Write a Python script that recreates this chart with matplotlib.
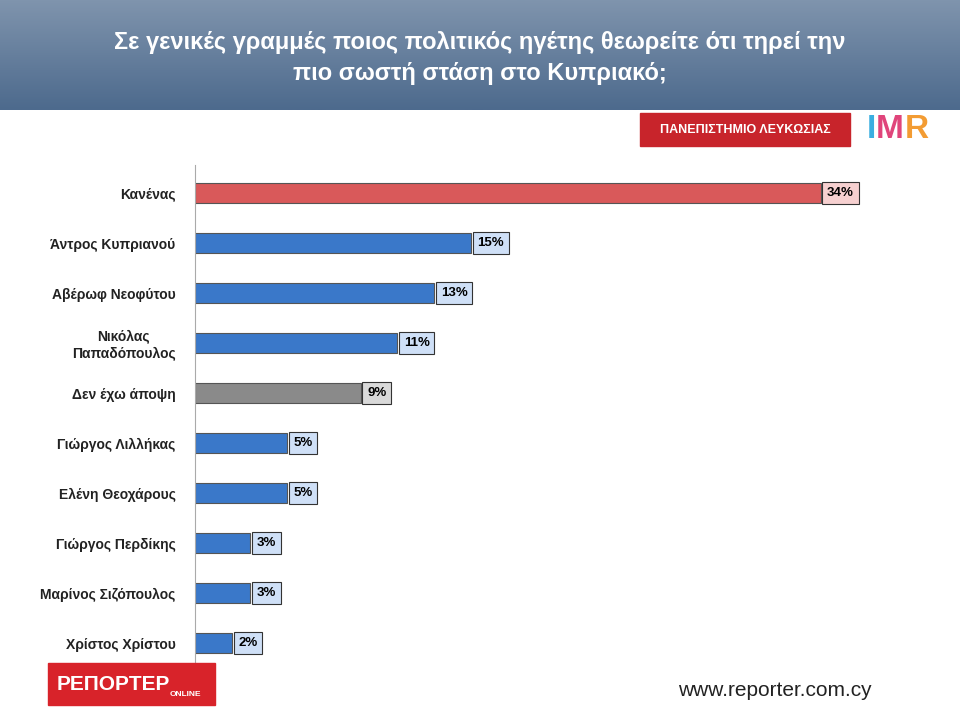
import matplotlib
matplotlib.use("Agg")
import matplotlib.pyplot as plt
import numpy as np
from matplotlib.patches import Rectangle
from matplotlib.colors import LinearSegmentedColormap

plt.rcParams["font.family"] = "Liberation Sans"

categories = ["Κανένας", "Άντρος Κυπριανού", "Αβέρωφ Νεοφύτου", "Νικόλας\nΠαπαδόπουλος",
              "Δεν έχω άποψη", "Γιώργος Λιλλήκας", "Ελένη Θεοχάρους", "Γιώργος Περδίκης",
              "Μαρίνος Σιζόπουλος", "Χρίστος Χρίστου"]
values = [34, 15, 13, 11, 9, 5, 5, 3, 3, 2]
labels = ["34%", "15%", "13%", "11%", "9%", "5%", "5%", "3%", "3%", "2%"]
bar_colors = ["#d9595a", "#3a78c9", "#3a78c9", "#3a78c9", "#8a8a8a", "#3a78c9",
              "#3a78c9", "#3a78c9", "#3a78c9", "#3a78c9"]
box_colors = ["#f6d0d0", "#cfe0f7", "#cfe0f7", "#cfe0f7", "#d9d9d9", "#cfe0f7",
              "#cfe0f7", "#cfe0f7", "#cfe0f7", "#cfe0f7"]

fig = plt.figure(figsize=(9.6, 7.2), dpi=100)
fig.patch.set_facecolor("white")

hax = fig.add_axes([0, 1 - 110/720, 1, 110/720])
grad = np.linspace(0, 1, 100).reshape(-1, 1)
cm = LinearSegmentedColormap.from_list("h", ["#7f94ad", "#4d6a8d"])
hax.imshow(grad, aspect="auto", cmap=cm, extent=[0, 1, 0, 1])
hax.axis("off")
fig.text(0.5, 1 - 58/720, "Σε γενικές γραμμές ποιος πολιτικός ηγέτης θεωρείτε ότι τηρεί την\nπιο σωστή στάση στο Κυπριακό;",
         ha="center", va="center", color="white", fontsize=17, fontweight="bold", linespacing=1.45)

ax = fig.add_axes([195/960, 1 - 665/720, 736/960, 500/720])
y = np.arange(len(values))
ax.barh(y, values, height=0.4, color=bar_colors, edgecolor="#555555", linewidth=0.8)
ax.set_xlim(0, 40)
ax.set_ylim(9.44, -0.56)
ax.set_yticks(y)
ax.set_yticklabels(categories, fontsize=10, fontweight="bold", color="#222222",
                   multialignment="center")
ax.tick_params(axis="y", length=0, pad=14)
ax.set_xticks([])
for s in ["top", "right", "bottom"]:
    ax.spines[s].set_visible(False)
ax.spines["left"].set_color("#aaaaaa")
for yi, v, lab, bc in zip(y, values, labels, box_colors):
    ax.text(v + 0.35, yi, lab, va="center", ha="left", fontsize=9.5, fontweight="bold",
            bbox=dict(boxstyle="square,pad=0.35", fc=bc, ec="#333333", lw=0.8))

fig.patches.append(Rectangle((640/960, 1 - 146/720), 210/960, 33/720, transform=fig.transFigure,
                             color="#c8242b"))
fig.text(745/960, 1 - 130/720, "ΠΑΝΕΠΙΣΤΗΜΙΟ ΛΕΥΚΩΣΙΑΣ", ha="center", va="center",
         color="white", fontsize=9, fontweight="bold")
fig.text(867/960, 1 - 130/720, "I", color="#3aaee0", fontsize=24, fontweight="bold", va="center")
fig.text(876/960, 1 - 130/720, "M", color="#e0457b", fontsize=24, fontweight="bold", va="center")
fig.text(905/960, 1 - 130/720, "R", color="#f39c33", fontsize=24, fontweight="bold", va="center")

fig.patches.append(Rectangle((48/960, 1 - 705/720), 167/960, 42/720, transform=fig.transFigure,
                             color="#d8232a"))
fig.text(57/960, 1 - 685/720, "ΡΕΠΟΡΤΕΡ", color="white", fontsize=15, fontweight="bold",
         va="center")
fig.text(170/960, 1 - 694/720, "ONLINE", color="white", fontsize=6, fontweight="bold", va="center")
fig.text(775/960, 1 - 690/720, "www.reporter.com.cy", ha="center", va="center", fontsize=15, color="#222222")

fig.savefig("out.png", dpi=100)
